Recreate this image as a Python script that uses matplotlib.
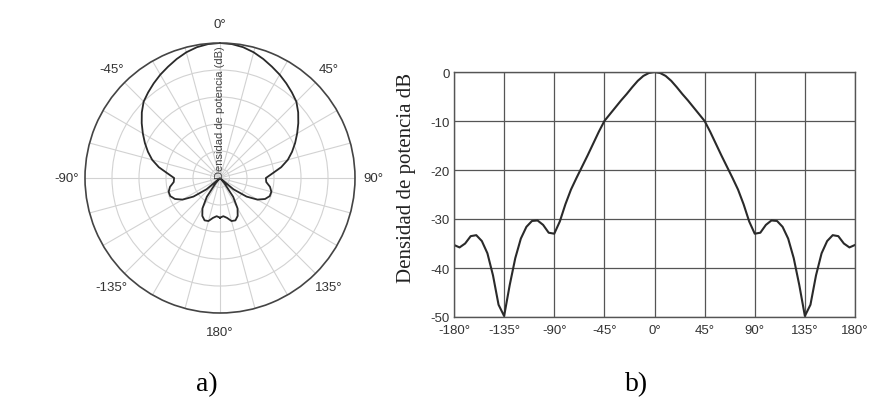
import numpy as np
import matplotlib
matplotlib.use('Agg')
import matplotlib.pyplot as plt

# Radiation pattern (dB), every 5 deg from -180 to 180
angles_deg = list(range(-180, 185, 5))
power_db = [
    -35.3, -35.8, -35.0, -33.5, -33.3, -34.5, -37.0, -41.5, -47.5, -49.8,   # -180 .. -135
    -43.5, -38.0, -34.0, -31.6, -30.4, -30.3, -31.2, -32.8, -33.0,          # -130 .. -90
    -30.5, -27.0, -24.0, -21.6, -19.3, -17.0, -14.6, -12.2, -10.0,          # -85 .. -45
    -8.6, -7.2, -5.8, -4.5, -3.1, -1.8, -0.8, -0.2,                         # -40 .. -5
    0.0,                                                                    # 0
    -0.2, -0.8, -1.8, -3.1, -4.5, -5.8, -7.2, -8.6,                         # 5 .. 40
    -10.0, -12.2, -14.6, -17.0, -19.3, -21.6, -24.0, -27.0, -30.5,          # 45 .. 85
    -33.0, -32.8, -31.2, -30.3, -30.4, -31.6, -34.0, -38.0, -43.5,          # 90 .. 130
    -49.8, -47.5, -41.5, -37.0, -34.5, -33.3, -33.5, -35.0, -35.8, -35.3,   # 135 .. 180
]

polar_labels = {0: '0°', 45: '45°', 90: '90°', 135: '135°', 180: '180°',
                225: '-135°', 270: '-90°', 315: '-45°'}
rect_xticks = [-180, -135, -90, -45, 0, 45, 90, 135, 180]
rect_yticks = [0, -10, -20, -30, -40, -50]

line_col = '#2a2a2a'
sans = ['Liberation Sans', 'DejaVu Sans']
serif = ['Liberation Serif', 'DejaVu Serif']

fig = plt.figure(figsize=(8.69, 4.02), dpi=100)

# ---- a) polar pattern
axp = fig.add_axes([85 / 869, 88 / 402, 270 / 869, 270 / 402], projection='polar')
axp.set_theta_zero_location('N')
axp.set_theta_direction(-1)
axp.plot(np.deg2rad(angles_deg), power_db, color=line_col, lw=1.3)
axp.set_ylim(-50, 0)
axp.set_rgrids([-46.5, -40, -30, -20, -10], labels=[''] * 5)
grid_angles = list(range(0, 360, 15))
axp.set_thetagrids(grid_angles, labels=[polar_labels.get(a, '') for a in grid_angles],
                   family=sans, fontsize=9.5, color='#333333')
axp.tick_params(axis='x', pad=3)
axp.grid(True, color='#d2d2d2', lw=0.8)
axp.spines['polar'].set_color('#444444')
axp.spines['polar'].set_linewidth(1.2)
axp.text(0, -50, 'Densidad de potencia (dB)', rotation=90, ha='center', va='bottom',
         family=sans, fontsize=8, color='#444444')

# ---- b) rectangular pattern
axr = fig.add_axes([454 / 869, 84 / 402, 401 / 869, 245 / 402])
axr.plot(angles_deg, power_db, color=line_col, lw=1.5)
axr.set_xlim(-180, 180)
axr.set_ylim(-50, 0)
axr.set_xticks(rect_xticks)
axr.set_xticklabels([f'{v}°' for v in rect_xticks], family=sans, fontsize=9.5, color='#333333')
axr.set_yticks(rect_yticks)
axr.set_yticklabels([str(v) for v in rect_yticks], family=sans, fontsize=9.5, color='#333333')
axr.tick_params(axis='y', length=0, pad=3)
axr.tick_params(axis='x', length=0, pad=5)
axr.grid(True, color='#555555', lw=0.9)
for s in axr.spines.values():
    s.set_color('#555555')
    s.set_linewidth(1.0)
axr.set_ylabel('Densidad de potencia dB', family=serif, fontsize=15, color='#222222')
axr.yaxis.set_label_coords(-0.095, 0.57)

fig.text(207 / 869, 1 - 385 / 402, 'a)', family=serif, fontsize=20, ha='center', va='center')
fig.text(637 / 869, 1 - 385 / 402, 'b)', family=serif, fontsize=20, ha='center', va='center')

fig.savefig('out.png', dpi=100, facecolor='white')
